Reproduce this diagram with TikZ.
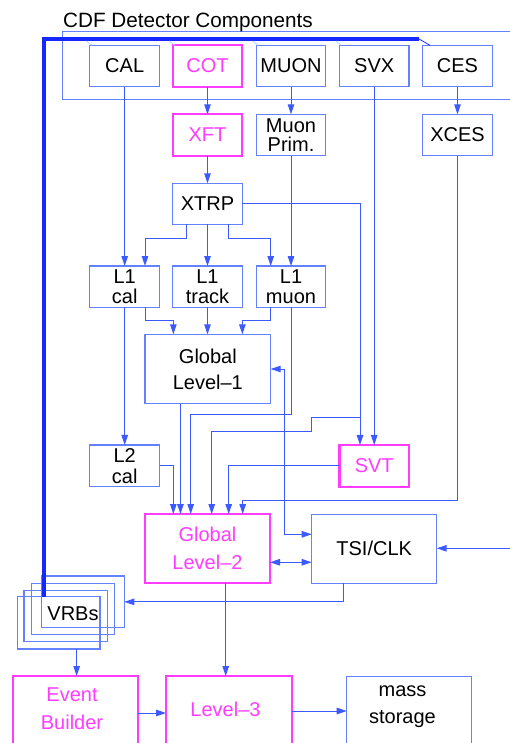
\documentclass[tikz,border=0pt]{standalone}
\usepackage{fontspec}
\setmainfont{Liberation Sans}
\usetikzlibrary{arrows.meta,calc}
\definecolor{lb}{RGB}{60,90,255}
\definecolor{bx}{RGB}{100,130,255}
\definecolor{mg}{RGB}{255,60,255}
\definecolor{busc}{RGB}{20,40,255}
\definecolor{tickc}{RGB}{170,215,255}
\begin{document}
\begin{tikzpicture}[x=1pt,y=-1pt,
 every node/.style={font=\fontsize{20}{20}\selectfont},
 box/.style={draw=bx,line width=1.1pt,inner sep=0pt,outer sep=0pt,align=center,minimum width=69.6pt,minimum height=41.4pt},
 mbox/.style={box,draw=mg,line width=2.2pt,text=mg},
 wire/.style={draw=lb,line width=1pt},
 arr/.style={wire,-{Triangle[length=10pt,width=6.5pt]}},
 darr/.style={wire,{Triangle[length=10pt,width=6.5pt]}-{Triangle[length=10pt,width=6.5pt]}},
 txt/.style={inner sep=0pt,outer sep=0pt,align=center},
]
\useasboundingbox (0,0) rectangle (510,743);
\clip (0,0) rectangle (510,743);
\fill[white] (0,0) rectangle (510,743);

% detector frame and title
\node[draw=bx,line width=1pt,inner sep=0pt,minimum width=468pt,minimum height=68.3pt] (frame) at (296.15,65.85) {};
\node[inner sep=0pt,anchor=base west,font=\fontsize{20.7}{20.7}\selectfont] (title) at (63,27.3) {CDF Detector Components};

% row 1
\node[box] (cal)  at (124.7,66) {CAL};
\node[mbox] (cot) at (207.5,66) {COT};
\node[box] (muon) at (291,66) {MUON};
\node[box] (svx)  at (374.2,66) {SVX};
\node[box] (ces)  at (457.5,66) {CES};
% row 2
\node[mbox] (xft) at (207.5,135) {XFT};
\node[box,font=\fontsize{20}{18.5}\selectfont] (mprim) at (291,135) {Muon\\Prim.};
\node[box] (xces) at (457.5,135) {XCES};
% XTRP
\node[box,minimum height=41pt] (xtrp) at (207.5,203.8) {XTRP};
% L1 row
\node[box,font=\fontsize{20}{20.6}\selectfont] (l1cal) at (124.7,286.7) {L1\\cal};
\node[box,font=\fontsize{20}{20.6}\selectfont] (l1track) at (207.5,286.7) {L1\\track};
\node[box,font=\fontsize{20}{20.6}\selectfont] (l1muon) at (291,286.7) {L1\\muon};
% Global Level-1
\node[box,minimum width=125.7pt,minimum height=69.4pt,font=\fontsize{20}{25.7}\selectfont] (gl1) at (207.85,369) {Global\\Level--1};
% L2 cal, SVT
\node[box,minimum height=41.7pt,font=\fontsize{20}{21}\selectfont] (l2cal) at (124.7,465.8) {L2\\cal};
\node[mbox,minimum height=41.7pt] (svt) at (374.2,465.8) {SVT};
% Global Level-2 and TSI/CLK
\node[mbox,minimum width=125pt,minimum height=69.3pt,font=\fontsize{20}{28.3}\selectfont] (gl2) at (207.5,548.65) {Global\\Level--2};
\node[box,minimum width=125pt,minimum height=69pt] (tsi) at (374.2,548.8) {TSI/CLK};
% VRBs stack
\node[box,minimum width=82.6pt,minimum height=51.7pt] (vrb1) at (83,601.85) {};
\node[box,minimum width=82.6pt,minimum height=51pt] (vrb2) at (73,608.8) {};
\node[box,minimum width=83.3pt,minimum height=51pt] (vrb3) at (65.65,616.2) {};
\node[box,minimum width=82.7pt,minimum height=52.3pt] (vrb4) at (58.65,622.85) {};
\node[txt] (vrbt) at (73,613.3) {VRBs};
% bottom row
\node[mbox,minimum width=125pt,minimum height=74pt] (eb) at (75.8,713) {};
\node[txt,text=mg,font=\fontsize{20}{28.3}\selectfont] (ebt) at (72,708.7) {Event\\Builder};
\node[mbox,minimum width=125.7pt,minimum height=70pt] (l3) at (228.85,711) {};
\node[txt,text=mg] (l3t) at (225.5,708.9) {Level--3};
\node[box,minimum width=125pt,minimum height=69.3pt] (ms) at (409.2,711.35) {};
\node[txt,font=\fontsize{20}{27.3}\selectfont] (mst) at (402.5,706.5) {mass\\storage};

% bus
\coordinate (bc) at (44,39);
\coordinate (be) at (419,39);
\draw[busc,line width=4pt] (vrb4.north -| bc) -- (bc) -- (be);
\draw[busc,line width=0.8pt] (be) -- ([xshift=7.3pt]ces.north west);
\foreach \n in {cal,cot,muon,svx}
  \draw[tickc,line width=0.8pt] ([xshift=-3.5pt,yshift=4.3pt]\n.north west) -- ([xshift=2pt]\n.north west);

% connectors
\draw[arr] (cal) -- (l1cal);
\draw[arr] (cot) -- (xft);
\draw[arr] (muon) -- (mprim);
\draw[arr] (ces) -- (xces);
\draw[arr] (xft) -- (xtrp);
\draw[arr] (mprim) -- (l1muon);
\draw[arr] (xtrp) -- (l1track);
\draw[arr] ([xshift=-20.8pt]xtrp.south) -- ++(0,14) -| ([xshift=20.3pt]l1cal.north);
\draw[arr] ([xshift=20.8pt]xtrp.south) -- ++(0,14) -| ([xshift=-20.3pt]l1muon.north);
\draw[arr] (xtrp.east) -| ([xshift=-14.2pt]svt.north);
\draw[arr] (svx) -- (svt);
\coordinate (b1) at (360,417.3);
\draw[arr] (b1) -- (311.7,417.3) -- (311.7,431) -| ([xshift=4.2pt]gl2.north);
\draw[arr] ([xshift=20.3pt]l1cal.south) -- ++(0,13.4) -| ([xshift=-34.5pt]gl1.north);
\draw[arr] (l1track.south) -- (l1track.south |- gl1.north);
\draw[arr] ([xshift=-20.3pt]l1muon.south) -- ++(0,13.4) -| ([xshift=34.5pt]gl1.north);
\draw[arr] (l1cal) -- (l2cal);
\draw[arr] (l1muon.south) -- (291,414) -| ([xshift=-16.8pt]gl2.north);
\coordinate (g1s) at ([xshift=-27.4pt]gl1.south);
\draw[arr] (g1s) -- (g1s |- gl2.north);
\coordinate (gt) at (284,534.3);
\draw[darr] (gl1.east) -| (gt) -- (gt -| tsi.west);
\draw[arr] (l2cal.east) -| ([xshift=-34.2pt]gl2.north);
\draw[arr] (svt.west) -| ([xshift=21.2pt]gl2.north);
\draw[arr] (xces.south) -- (457.5,500) -| ([xshift=35.2pt]gl2.north);
\coordinate (g2e) at ([yshift=-13.6pt]gl2.east);
\draw[darr] (g2e) -- (g2e -| tsi.west);
\coordinate (ext) at (512,548.3);
\draw[arr] (ext) -- (ext -| tsi.east);
\draw[arr] ([xshift=-30.9pt]tsi.south) |- (vrb1.east);
\coordinate (v4b) at ([xshift=18pt]vrb4.south);
\draw[arr] (v4b) -- (v4b |- eb.north);
\coordinate (g2s) at ([xshift=18.2pt]gl2.south);
\draw[arr] (g2s) -- (g2s |- l3.north);
\draw[arr] (eb.east) -- (eb.east -| l3.west);
\draw[arr] (l3.east) -- (l3.east -| ms.west);
\end{tikzpicture}
\end{document}
